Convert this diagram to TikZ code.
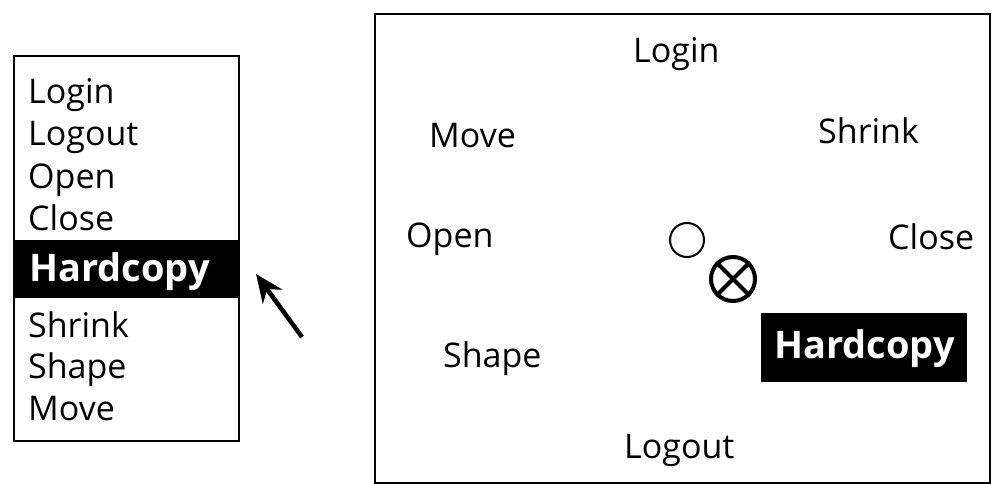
\documentclass[tikz,border=0pt]{standalone}
\usepackage{fontspec}
\setmainfont{Open Sans}
\usetikzlibrary{arrows.meta}
\begin{document}
\begin{tikzpicture}[x=1pt,y=-1pt,
  item/.style={anchor=base west,inner sep=0pt,font=\fontsize{34}{36}\selectfont},
  hot/.style={anchor=base west,inner sep=0pt,text=white,font=\fontsize{38}{40}\selectfont\bfseries},
  frame/.style={draw=black,line width=2.4pt}]
\useasboundingbox (0,0) rectangle (993,484);
% left menu
\node[frame,minimum width=225pt,minimum height=385pt,anchor=north west,inner sep=0pt] (menu) at (13,55) {};
\fill[black] (13,240) rectangle (238,298);
\node[item] (l1) at (28,104) {Login};
\node[item] (l2) at (28,146) {Logout};
\node[item] (l3) at (28,188) {Open};
\node[item] (l4) at (28,230) {Close};
\node[hot] (l5) at (29,281) {Hardcopy};
\node[item] (l6) at (28,337) {Shrink};
\node[item] (l7) at (28,378) {Shape};
\node[item] (l8) at (28,420) {Move};
% arrow
\coordinate (tail) at (302,337);
\coordinate (tip) at (256,274);
\draw[line width=4.5pt,-{Stealth[length=28pt,width=24pt]}] (tail) -- (tip);
% right pie menu
\node[frame,minimum width=615pt,minimum height=469pt,anchor=north west,inner sep=0pt] (pie) at (374,13) {};
\node[item] (r1) at (633,63) {Login};
\node[item] (r2) at (429,147) {Move};
\node[item] (r3) at (818,143) {Shrink};
\node[item] (r4) at (406,247) {Open};
\node[item] (r5) at (888,249) {Close};
\node[item] (r6) at (443,367) {Shape};
\node[item] (r7) at (624,458) {Logout};
\node[fill=black,minimum width=206pt,minimum height=69pt,anchor=north west,inner sep=0pt] (hbox) at (761,313) {};
\node[hot] (r8) at (774,358) {Hardcopy};
\node[draw,circle,line width=2pt,minimum size=34pt,inner sep=0pt] (c0) at (687,240) {};
\node[draw,circle,line width=4pt,minimum size=44pt,inner sep=0pt] (c1) at (733,279) {};
\draw[line width=4pt] (c1.north west) -- (c1.south east) (c1.north east) -- (c1.south west);
\end{tikzpicture}
\end{document}
